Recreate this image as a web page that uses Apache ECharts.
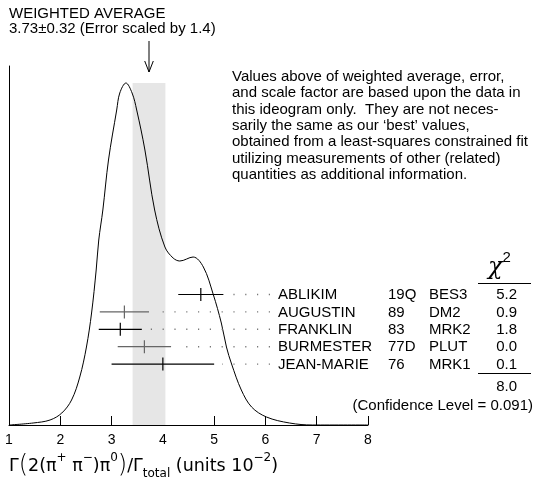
<!DOCTYPE html>
<html>
<head>
<meta charset="utf-8">
<script src="https://cdn.jsdelivr.net/npm/echarts@6/dist/echarts.min.js"></script>
<style>
  html, body { margin: 0; padding: 0; background: #fff; }
  #chart { width: 534px; height: 485px; }
</style>
</head>
<body>
<div id="chart"></div>
<script>
// measurements
const names = ['ABLIKIM', 'AUGUSTIN', 'FRANKLIN', 'BURMESTER', 'JEAN-MARIE'];
const years = ['19Q', '89', '83', '77D', '76'];
const experiments = ['BES3', 'DM2', 'MRK2', 'PLUT', 'MRK1'];
const values = [4.74, 3.25, 3.17, 3.64, 4.00];
const errors = [0.44, 0.48, 0.42, 0.52, 1.00];
const chi2 = ['5.2', '0.9', '1.8', '0.0', '0.1'];
const chi2Total = '8.0';
const confidenceLevel = '0.091';

// weighted average
const avgValue = 3.73;
const avgError = 0.32;
const scaleFactor = 1.4;

// ideogram curve (arbitrary height units)
const curveX = [1.00, 1.47, 1.80, 2.03, 2.22, 2.38, 2.51, 2.61, 2.70, 2.75, 2.83, 2.94, 3.10, 3.16, 3.28,
  3.40, 3.49, 3.65, 3.84, 4.04, 4.20, 4.33, 4.59, 4.79, 4.98, 5.14, 5.24, 5.34, 5.53, 5.73, 6.02,
  6.47, 6.92, 8.00];
const curveY = [0, 2, 5, 12, 25, 48, 78, 112, 155, 185, 215, 265, 315, 332, 342,
  332, 315, 275, 215, 178, 167, 164, 168, 158, 131, 102, 78, 61, 35, 18, 8,
  2, 0, 0];

const xTicks = [1, 2, 3, 4, 5, 6, 7, 8];

const note = [
  'Values above of weighted average, error,',
  'and scale factor are based upon the data in',
  'this ideogram only.  They are not neces-',
  'sarily the same as our \u2018best\u2019 values,',
  'obtained from a least-squares constrained fit',
  'utilizing measurements of other (related)',
  'quantities as additional information.'
];

const FONT = '"Liberation Sans", Arial, Helvetica, sans-serif';
const TXT = '15px ' + FONT;
const grayRows = [1, 3];
const colName = 278, colYear = 388, colCode = 429, colChi = 517;

const chart = echarts.init(document.getElementById('chart'));

const option = {
  animation: false,
  grid: [
    { left: 9, right: 166, top: 66, bottom: 60 },
    { left: 9, right: 166, top: 285.8, height: 87 }
  ],
  xAxis: [
    {
      type: 'value', gridIndex: 0,
      min: xTicks[0], max: xTicks[xTicks.length - 1], interval: 1,
      axisLine: { lineStyle: { color: '#000', width: 1 } },
      axisTick: { inside: true, length: 9, lineStyle: { color: '#000' } },
      axisLabel: { color: '#000', fontSize: 14, fontFamily: FONT, margin: 8 },
      splitLine: { show: false }
    },
    { type: 'value', gridIndex: 1, min: 1, max: 8, show: false }
  ],
  yAxis: [
    {
      type: 'value', gridIndex: 0, min: 0, max: 359,
      axisLine: { show: true, lineStyle: { color: '#000', width: 1 } },
      axisTick: { show: false }, axisLabel: { show: false }, splitLine: { show: false }
    },
    { type: 'category', gridIndex: 1, data: names, inverse: true, show: false }
  ],
  series: [
    {
      type: 'line',
      xAxisIndex: 0, yAxisIndex: 0,
      data: curveX.map((x, i) => [x, curveY[i]]),
      smooth: 0.35,
      symbol: 'none',
      lineStyle: { color: '#000', width: 1 },
      z: 3,
      markArea: {
        silent: true,
        itemStyle: { color: '#e6e6e6' },
        data: [[{ xAxis: avgValue - avgError, yAxis: 0 }, { xAxis: avgValue + avgError, yAxis: 342 }]]
      }
    },
    {
      // arrow pointing at the weighted average
      type: 'custom',
      xAxisIndex: 0, yAxisIndex: 0,
      clip: false,
      data: [[avgValue, 0]],
      renderItem: function (params, api) {
        const x = api.coord([api.value(0), 0])[0];
        const st = { stroke: '#000', lineWidth: 1, fill: null };
        return {
          type: 'group',
          children: [
            { type: 'line', shape: { x1: x, y1: 41, x2: x, y2: 72 }, style: st },
            { type: 'polyline', shape: { points: [[x - 4.3, 61], [x, 72], [x + 4.3, 61]] }, style: st }
          ]
        };
      }
    },
    {
      type: 'custom',
      xAxisIndex: 1, yAxisIndex: 1,
      clip: false,
      z: 4,
      data: values.map((v, i) => [v, i, errors[i]]),
      encode: { x: 0, y: 1 },
      renderItem: function (params, api) {
        const v = api.value(0), row = api.value(1), e = api.value(2);
        const c = api.coord([v, row]);
        const lo = api.coord([v - e, row]);
        const hi = api.coord([v + e, row]);
        const y = c[1];
        const color = grayRows.indexOf(row) >= 0 ? '#666' : '#000';
        const txt = (x, s, align) => ({
          type: 'text',
          style: { x: x, y: y + 0.5, text: s, font: TXT, fill: '#000', textAlign: align || 'left', textVerticalAlign: 'middle' }
        });
        return {
          type: 'group',
          children: [
            { type: 'line', shape: { x1: colName - 8, y1: y, x2: hi[0] + 8, y2: y },
              style: { stroke: '#777', lineWidth: 1.4, lineDash: [1.2, 10.6] } },
            { type: 'line', shape: { x1: lo[0], y1: y, x2: hi[0], y2: y }, style: { stroke: color, lineWidth: 1.2 } },
            { type: 'line', shape: { x1: c[0], y1: y - 6.5, x2: c[0], y2: y + 6.5 }, style: { stroke: color, lineWidth: 1.2 } },
            txt(colName, names[row]),
            txt(colYear, years[row]),
            txt(colCode, experiments[row]),
            txt(colChi, chi2[row], 'right')
          ]
        };
      }
    }
  ],
  graphic: [
    {
      type: 'text', left: 9, top: 6,
      style: {
        text: 'WEIGHTED AVERAGE\n' + avgValue.toFixed(2) + '\u00b1' + avgError.toFixed(2) + ' (Error scaled by ' + scaleFactor + ')',
        font: TXT, fill: '#000', lineHeight: 15
      }
    },
    {
      type: 'text', left: 232, top: 68.5,
      style: { text: note.join('\n'), font: TXT, fill: '#000', lineHeight: 16.4 }
    },
    {
      type: 'text', left: 488, top: 250,
      style: {
        text: '{c|\u03c7}{s|2}',
        rich: {
          c: { fontSize: 24, fontFamily: 'DejaVu Serif', fontStyle: 'italic', lineHeight: 30, verticalAlign: 'bottom' },
          s: { fontSize: 15, fontFamily: FONT, lineHeight: 16, verticalAlign: 'top' }
        }
      }
    },
    { type: 'line', shape: { x1: 478, y1: 283.5, x2: 531, y2: 283.5 }, style: { stroke: '#000', lineWidth: 1 } },
    { type: 'line', shape: { x1: 478, y1: 373.5, x2: 531, y2: 373.5 }, style: { stroke: '#000', lineWidth: 1 } },
    {
      type: 'text', right: 17, top: 379,
      style: { text: chi2Total, font: TXT, fill: '#000' }
    },
    {
      type: 'text', right: 1, top: 398,
      style: { text: '(Confidence Level = ' + confidenceLevel + ')', font: TXT, fill: '#000' }
    },
    {
      type: 'text', left: 9, top: 452,
      style: {
        text: '{n|\u0393}{p|(}{n|2(\u03c0}{s|+}{n| \u03c0}{s|\u2212}{n|)\u03c0}{s|0}{p|)}{n|/\u0393}{b|total}{n| (units 10}{s|\u22122}{n|)}',
        rich: {
          n: { fontSize: 17.5, fontFamily: 'DejaVu Sans', lineHeight: 28, verticalAlign: 'middle', fill: '#000' },
          p: { fontSize: 24, fontFamily: 'DejaVu Sans', lineHeight: 28, verticalAlign: 'middle', fontWeight: 100 },
          s: { fontSize: 12, fontFamily: 'DejaVu Sans', lineHeight: 13, verticalAlign: 'top' },
          b: { fontSize: 12, fontFamily: 'DejaVu Sans', lineHeight: 12, verticalAlign: 'bottom' }
        }
      }
    }
  ]
};

chart.setOption(option);
window.onresize = () => { chart.resize(); };
</script>
</body>
</html>
